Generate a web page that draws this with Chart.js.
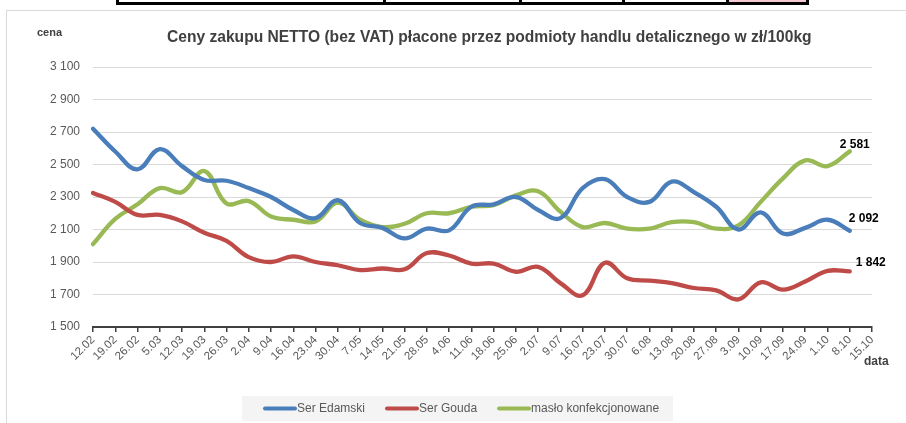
<!DOCTYPE html>
<html>
<head>
<meta charset="utf-8">
<script src="https://cdn.jsdelivr.net/npm/chart.js@4.4.0/dist/chart.umd.min.js"></script>
<style>
    body { margin: 0; background: #fff; }
    #wrap { position: relative; width: 906px; height: 423px; overflow: hidden; font-family: "Liberation Sans", Arial, sans-serif; }
    #frame { position: absolute; left: 6px; top: 10px; width: 1000px; height: 600px; border: 1px solid #d9d9d9; }
    .tbl { position: absolute; background: #000; }
    #pink { position: absolute; left: 728px; top: 0; width: 78px; height: 2px; background: #f4c9d0; }
    #chart { position: absolute; left: 0; top: 0; }
    .txt { position: absolute; color: #404040; font-weight: bold; white-space: nowrap; }
    #title { left: 167px; top: 28px; font-size: 15.6px; }
    #cena { left: 37px; top: 26px; font-size: 11px; }
    #data { left: 864px; top: 354px; font-size: 12px; }
</style>
</head>
<body>
<div id="wrap">
    <div id="pink"></div>
    <div class="tbl" style="left:116px;top:2px;width:693px;height:3px"></div>
    <div class="tbl" style="left:116px;top:0;width:3px;height:5px"></div>
    <div class="tbl" style="left:383px;top:0;width:3px;height:5px"></div>
    <div class="tbl" style="left:519px;top:0;width:3px;height:5px"></div>
    <div class="tbl" style="left:622px;top:0;width:3px;height:5px"></div>
    <div class="tbl" style="left:726px;top:0;width:3px;height:5px"></div>
    <div class="tbl" style="left:806px;top:0;width:3px;height:5px"></div>
    <div id="frame"></div>
    <canvas id="chart" width="906" height="423"></canvas>
    <div class="txt" id="title">Ceny zakupu NETTO (bez VAT) płacone przez podmioty handlu detalicznego w zł/100kg</div>
    <div class="txt" id="cena">cena</div>
    <div class="txt" id="data">data</div>
</div>
<script>
const labels = ['12.02', '19.02', '26.02', '5.03', '12.03', '19.03', '26.03', '2.04', '9.04', '16.04',
    '23.04', '30.04', '7.05', '14.05', '21.05', '28.05', '4.06', '11.06', '18.06', '25.06',
    '2.07', '9.07', '16.07', '23.07', '30.07', '6.08', '13.08', '20.08', '27.08', '3.09',
    '10.09', '17.09', '24.09', '1.10', '8.10', '15.10'];

const edamski = [2720, 2580, 2470, 2595, 2490, 2405, 2400, 2355, 2300, 2220,
    2170, 2280, 2140, 2110, 2045, 2105, 2095, 2240, 2255, 2300,
    2220, 2170, 2355, 2410, 2300, 2270, 2395, 2330, 2240, 2100,
    2205, 2075, 2110, 2160, 2092];

const gouda = [2325, 2270, 2190, 2190, 2150, 2080, 2030, 1930, 1900, 1935,
    1900, 1880, 1850, 1860, 1855, 1955, 1940, 1890, 1890, 1840,
    1870, 1770, 1695, 1895, 1800, 1785, 1770, 1740, 1725, 1670,
    1775, 1730, 1780, 1845, 1842];

const maslo = [2010, 2165, 2255, 2355, 2330, 2460, 2260, 2275, 2180, 2160,
    2150, 2265, 2160, 2115, 2135, 2200, 2200, 2240, 2250, 2310,
    2335, 2210, 2115, 2140, 2105, 2105, 2145, 2145, 2105, 2125,
    2270, 2415, 2525, 2490, 2581];

const seriesNames = ['Ser Edamski', 'Ser Gouda', 'masło konfekcjonowane'];
const seriesColors = ['#4a7ebb', '#be4b48', '#98b954'];

// where the last-value labels sit relative to the last point
const endLabelOffsets = [[-1, -12], [6, -9], [-10, -7]];

function formatNumber(v) {
    return Math.round(v).toString().replace(/\B(?=(\d{3})+(?!\d))/g, ' ');
}

const endLabels = {
    id: 'endLabels',
    afterDatasetsDraw(chart) {
        const ctx = chart.ctx;
        ctx.save();
        ctx.font = 'bold 12px "Liberation Sans", Arial, sans-serif';
        ctx.fillStyle = '#000';
        ctx.textAlign = 'left';
        ctx.textBaseline = 'middle';
        chart.data.datasets.forEach((ds, i) => {
            const meta = chart.getDatasetMeta(i);
            const last = meta.data[ds.data.length - 1];
            const off = endLabelOffsets[i];
            ctx.fillText(formatNumber(ds.data[ds.data.length - 1]), last.x + off[0], last.y + off[1]);
        });
        ctx.restore();
    }
};

// Excel-like legend in a light box under the chart
const boxLegend = {
    id: 'boxLegend',
    afterDraw(chart) {
        const ctx = chart.ctx;
        ctx.save();
        ctx.fillStyle = '#f4f4f4';
        ctx.fillRect(242, 396, 431, 25);
        ctx.font = '12px "Liberation Sans", Arial, sans-serif';
        ctx.textBaseline = 'middle';
        let x = 263;
        const y = 408.5;
        chart.data.datasets.forEach((ds) => {
            ctx.strokeStyle = ds.borderColor;
            ctx.lineWidth = 4;
            ctx.lineCap = 'round';
            ctx.beginPath();
            ctx.moveTo(x + 2, y);
            ctx.lineTo(x + 32, y);
            ctx.stroke();
            ctx.fillStyle = '#595959';
            ctx.fillText(ds.label, x + 34, y);
            x += 34 + ctx.measureText(ds.label).width + 20;
        });
        ctx.restore();
    }
};

const ctx = document.getElementById('chart').getContext('2d');
new Chart(ctx, {
    type: 'line',
    data: {
        labels: labels,
        datasets: [edamski, gouda, maslo].map((d, i) => ({
            label: seriesNames[i],
            data: d,
            borderColor: seriesColors[i],
            backgroundColor: seriesColors[i],
            borderWidth: 4.3,
            borderCapStyle: 'round',
            borderJoinStyle: 'round',
            pointRadius: 0,
            tension: 0.4,
            fill: false
        }))
    },
    options: {
        responsive: false,
        animation: false,
        layout: { padding: { left: 33, right: 34, top: 67, bottom: 36 } },
        plugins: {
            legend: { display: false },
            title: { display: false },
            tooltip: { enabled: false }
        },
        scales: {
            x: {
                offset: false,
                afterFit(scale) { scale.height = 60; },
                border: { display: true, color: '#404040', width: 2 },
                grid: { display: true, drawOnChartArea: false, drawTicks: true, tickLength: 5, color: '#404040', lineWidth: 1.5 },
                ticks: {
                    autoSkip: false,
                    minRotation: 45,
                    maxRotation: 45,
                    padding: 1,
                    color: '#595959',
                    font: { family: '"Liberation Sans", Arial, sans-serif', size: 11.5 }
                }
            },
            y: {
                min: 1500,
                max: 3100,
                afterFit(scale) { scale.width = 60; },
                border: { display: false },
                grid: { color: '#d9d9d9', lineWidth: 1, drawTicks: false },
                ticks: {
                    stepSize: 200,
                    padding: 13,
                    color: '#595959',
                    font: { family: '"Liberation Sans", Arial, sans-serif', size: 12 },
                    callback: (v) => formatNumber(v)
                }
            }
        }
    },
    plugins: [endLabels, boxLegend]
});
</script>
</body>
</html>
